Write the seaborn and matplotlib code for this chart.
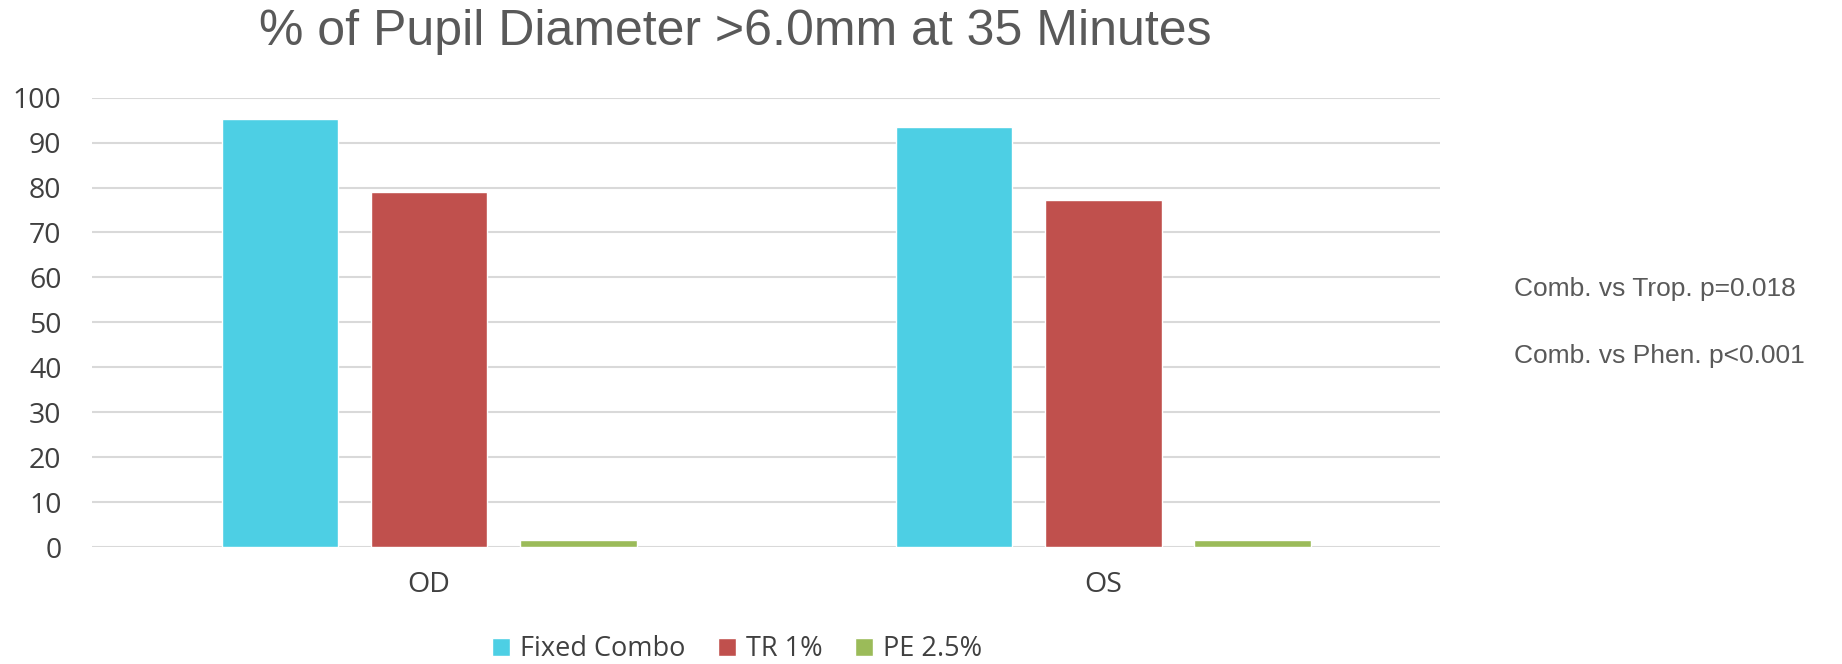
import pandas as pd
import matplotlib.pyplot as plt
import seaborn as sns

# Values
eyes = ['OD', 'OS']
treatments = ['Fixed Combo', 'TR 1%', 'PE 2.5%']
fixed_combo = [95.2, 93.5]
tr_1 = [79.1, 77.3]
pe_25 = [1.5, 1.5]
y_ticks = list(range(0, 101, 10))

rows = []
for i, eye in enumerate(eyes):
    for name, vals in zip(treatments, [fixed_combo, tr_1, pe_25]):
        rows.append({'Eye': eye, 'Treatment': name, 'Percent': vals[i]})
df = pd.DataFrame(rows)

palette = {'Fixed Combo': '#4DCFE4', 'TR 1%': '#C0504D', 'PE 2.5%': '#9BBB59'}

sns.set_style('white')
plt.rcParams['font.family'] = ['Open Sans', 'DejaVu Sans']

fig, ax = plt.subplots(figsize=(18.42, 6.64), dpi=100)
fig.subplots_adjust(left=0.05, right=0.782, top=0.853, bottom=0.176)

sns.barplot(data=df, x='Eye', y='Percent', hue='Treatment', hue_order=treatments,
            palette=palette, width=0.664, gap=0.22, saturation=1, ax=ax,
            legend=True)

ax.set_ylim(0, 100)
ax.set_yticks(y_ticks)
ax.yaxis.grid(True, color='#D9D9D9', linewidth=1.5)
ax.set_axisbelow(True)
for s in ax.spines.values():
    s.set_visible(False)
ax.tick_params(axis='both', length=0, labelsize=20.5, colors='#404040')
ax.tick_params(axis='y', pad=22)
ax.tick_params(axis='x', pad=17)
ax.set_xlabel('')
ax.set_ylabel('')

# Legend at the bottom
handles, labels = ax.get_legend_handles_labels()
ax.get_legend().remove()
fig.legend(handles, labels, loc='center', bbox_to_anchor=(0.4, 0.022), ncol=3,
           frameon=False, fontsize=19.5, handlelength=0.68, handleheight=0.68,
           handletextpad=0.35, columnspacing=1.2, labelcolor='#404040')

fig.text(0.399, 0.952, '% of Pupil Diameter >6.0mm at 35 Minutes', ha='center',
         va='center', fontsize=36, color='#595959', family=['Liberation Sans'])

fig.text(0.822, 0.565, 'Comb. vs Trop. p=0.018', ha='left', va='center',
         fontsize=19, color='#595959', family=['Liberation Sans'])
fig.text(0.822, 0.464, 'Comb. vs Phen. p<0.001', ha='left', va='center',
         fontsize=19, color='#595959', family=['Liberation Sans'])

plt.savefig('out.png', dpi=100)
